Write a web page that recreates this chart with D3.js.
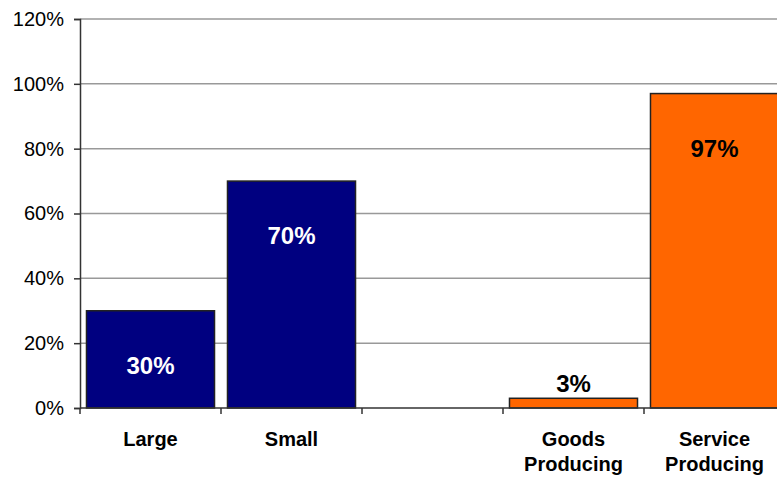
<!DOCTYPE html>
<html><head><meta charset="utf-8">
<script src="https://cdn.jsdelivr.net/npm/d3@7"></script>
<style>body{margin:0;background:#fff}svg{display:block}text{font-family:"Liberation Sans",Arial,sans-serif}</style>
</head><body>
<svg id="c" width="777" height="477"></svg>
<script>
const categories = ["Large", "Small", "", "Goods\nProducing", "Service\nProducing"];
const values = [30, 70, null, 3, 97];
const colors = ["#000080", "#000080", null, "#FF6600", "#FF6600"];
const labelColors = ["#fff", "#fff", null, "#000", "#000"];
const yTicks = [0, 20, 40, 60, 80, 100, 120];

(function() {
const svg = d3.select("#c");
const mLeft = 80, mRight = 785, mTop = 19, mBottom = 408;
const x = d3.scaleBand().domain(d3.range(categories.length)).range([mLeft, mRight]).paddingInner(0.092).paddingOuter(0.046);
const y = d3.scaleLinear().domain([0, 120]).range([mBottom, mTop]);

// gridlines
svg.append("g").selectAll("line").data(yTicks.filter(d => d > 0)).join("line")
  .attr("x1", mLeft).attr("x2", 777).attr("y1", d => y(d)).attr("y2", d => y(d))
  .attr("stroke", "#999").attr("stroke-width", 1.5);

// y axis
const ya = svg.append("g").attr("transform", `translate(${mLeft},0)`)
  .call(d3.axisLeft(y).tickValues(yTicks).tickFormat(d => d + "%").tickSize(6).tickPadding(10));
ya.select(".domain").attr("stroke", "#333").attr("stroke-width", 1.5);
ya.selectAll(".tick line").attr("stroke", "#333").attr("stroke-width", 1.5);
ya.selectAll(".tick text").attr("font-size", 20).attr("fill", "#000").attr("font-family", "Liberation Sans, Arial, sans-serif");

// bars
const idx = d3.range(values.length).filter(i => values[i] != null);
svg.append("g").selectAll("rect").data(idx).join("rect")
  .attr("x", i => x(i)).attr("width", x.bandwidth())
  .attr("y", i => y(values[i])).attr("height", i => y(0) - y(values[i]))
  .attr("fill", i => colors[i]).attr("stroke", "#222").attr("stroke-width", 1.5);

// x axis line + ticks at band boundaries
svg.append("line").attr("x1", mLeft).attr("x2", 777).attr("y1", mBottom).attr("y2", mBottom)
  .attr("stroke", "#333").attr("stroke-width", 1.5);
const step = x.step();
const bounds = d3.range(categories.length + 1).map(i => mLeft + i * step);
svg.append("g").selectAll("line").data(bounds).join("line")
  .attr("x1", d => d).attr("x2", d => d).attr("y1", mBottom).attr("y2", mBottom + 6)
  .attr("stroke", "#333").attr("stroke-width", 1.5);

// category labels
const cl = svg.append("g").selectAll("text").data(d3.range(categories.length)).join("text")
  .attr("text-anchor", "middle").attr("font-size", 20).attr("font-weight", "bold")
  .attr("x", i => x(i) + x.bandwidth() / 2).attr("y", 446);
cl.each(function(i) {
  const lines = categories[i].split("\n");
  d3.select(this).selectAll("tspan").data(lines).join("tspan")
    .attr("x", x(i) + x.bandwidth() / 2).attr("dy", (d, k) => k === 0 ? 0 : 25).text(d => d);
});

// data labels
svg.append("g").selectAll("text").data(idx).join("text")
  .attr("text-anchor", "middle").attr("font-size", 24).attr("font-weight", "bold")
  .attr("fill", i => labelColors[i])
  .attr("x", i => x(i) + x.bandwidth() / 2)
  .attr("y", i => values[i] < 10 ? y(values[i]) - 6 : y(values[i]) + 63)
  .text(i => values[i] + "%");
})();
</script>
</body></html>
